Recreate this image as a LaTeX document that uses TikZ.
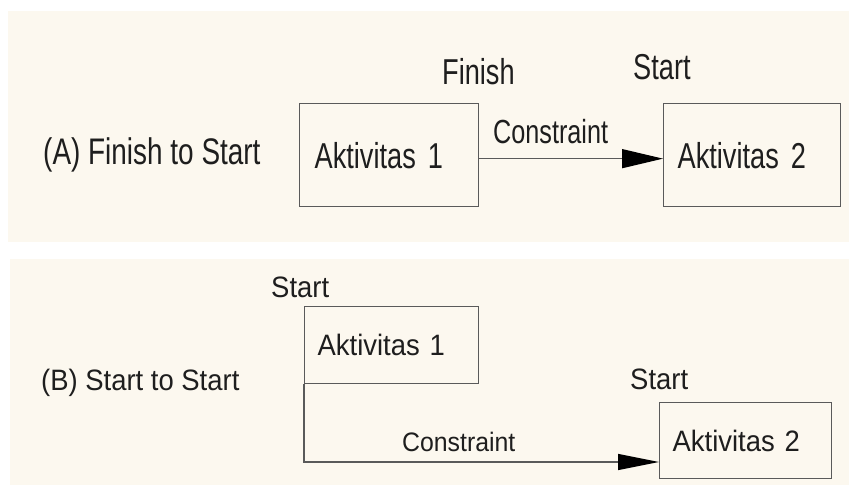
\documentclass[tikz,border=0pt]{standalone}
\usepackage{fontspec}
\usetikzlibrary{arrows.meta}
\newfontfamily\fontA[FakeStretch=0.755]{Liberation Sans}
\newfontfamily\fontB[FakeStretch=0.93]{Liberation Sans}
\definecolor{bgbeige}{HTML}{FCF8EF}
\definecolor{ink}{HTML}{1E1E1E}
\definecolor{edge}{HTML}{5A5A5A}
\tikzset{
  panelbg/.style={fill=bgbeige, draw=none},
  txtA/.style={inner sep=0pt, anchor=base west, text=ink, font=\fontA\fontsize{36}{38}\selectfont},
  txtAl/.style={inner sep=0pt, anchor=base west, text=ink, font=\fontA\fontsize{37}{39}\selectfont},
  txtAs/.style={inner sep=0pt, anchor=base west, text=ink, font=\fontA\fontsize{33.4}{35}\selectfont},
  txtB/.style={inner sep=0pt, anchor=base west, text=ink, font=\fontB\fontsize{29.5}{31}\selectfont},
  txtBs/.style={inner sep=0pt, anchor=base west, text=ink, font=\fontB\fontsize{26.7}{28}\selectfont},
  boxA/.style={draw=edge, line width=1.3pt, fill=bgbeige, anchor=north west, inner ysep=0pt, align=left, text=ink, font=\fontA\fontsize{36}{38}\selectfont},
  boxB/.style={draw=edge, line width=1.3pt, fill=bgbeige, anchor=north west, inner ysep=0pt, align=left, text=ink, font=\fontB\fontsize{29.5}{31}\selectfont},
  conn/.style={draw=edge, line width=1.3pt},
}
\begin{document}
\begin{tikzpicture}[x=1pt,y=-1pt]
\useasboundingbox (0,0) rectangle (849,485);
\fill[panelbg] (8,11) rectangle (849,242);
\fill[panelbg] (10,259) rectangle (849,485);

% ---- Panel A ----
\node[txtAl] (labA) at (43,164) {(A) Finish to Start};
\node[boxA, minimum width=179pt, minimum height=103pt, text width=149pt, inner xsep=15pt] (a1) at (299,103) {Aktivitas 1};
\node[boxA, minimum width=177pt, minimum height=103pt, text width=149pt, inner xsep=14pt] (a2) at (663,103) {Aktivitas 2};
\node[txtA] (finA) at (442,84) {Finish};
\node[txtA] (startA) at (633,79) {Start};
\node[txtAs] (conA) at (493,143) {Constraint};
\draw[conn, -{Triangle[length=41pt,width=19pt,fill=black,color=black]}] ([yshift=-3.5pt]a1.east) -- ([yshift=-3.5pt]a2.west);

% ---- Panel B ----
\node[txtB] (labB) at (41,390) {(B) Start to Start};
\node[boxB, minimum width=174pt, minimum height=77pt, text width=148pt, inner xsep=13pt] (b1) at (304,306) {Aktivitas 1};
\node[boxB, minimum width=172pt, minimum height=76pt, text width=146pt, inner xsep=13pt] (b2) at (659,402) {Aktivitas 2};
\node[txtB] (startB1) at (271,297) {Start};
\node[txtB] (startB2) at (630,389) {Start};
\node[txtBs] (conB) at (402,451) {Constraint};
\coordinate (bendB) at (304,462);
\draw[conn, -{Triangle[length=41pt,width=16pt,fill=black,color=black]}] (b1.south west) -- (bendB) -- (b2.west |- bendB);
\end{tikzpicture}
\end{document}
